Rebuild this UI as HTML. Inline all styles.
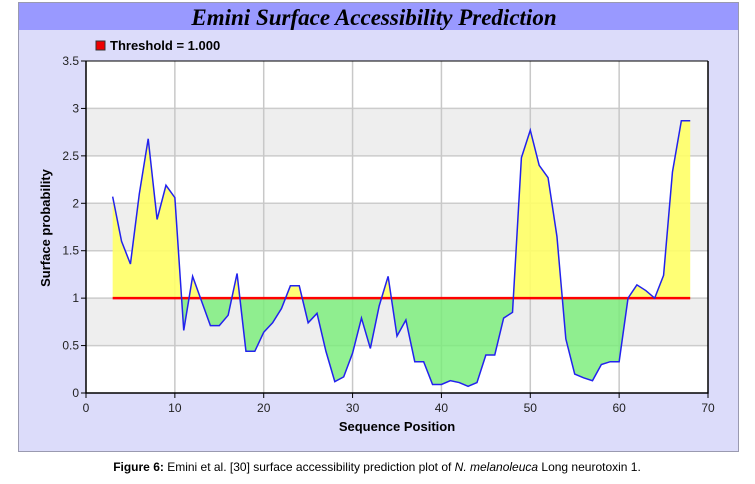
<!DOCTYPE html>
<html><head><meta charset="utf-8"><style>
body{margin:0;background:#fff;width:755px;height:479px;overflow:hidden;font-family:"Liberation Sans",Arial,sans-serif}
</style></head><body>
<svg width="755" height="479" xmlns="http://www.w3.org/2000/svg" id="svg">
<rect x="18.5" y="2.5" width="720" height="449" fill="#dcdcfa" stroke="#9a9ab0"/>
<rect x="19" y="3" width="719" height="27" fill="#9999ff"/>
<text x="374" y="25" text-anchor="middle" font-family="Liberation Serif,serif" font-style="italic" font-weight="bold" font-size="23">Emini Surface Accessibility Prediction</text>
<rect x="96" y="41" width="9" height="9" fill="#ee0000" stroke="#333"/>
<text x="110" y="50" font-weight="bold" font-size="13">Threshold = 1.000</text>
<g id="plot"></g>
<text x="397" y="431" text-anchor="middle" font-weight="bold" font-size="13">Sequence Position</text>
<text transform="translate(50,228) rotate(-90)" text-anchor="middle" font-weight="bold" font-size="13">Surface probability</text>
<text x="377" y="471" text-anchor="middle" font-size="12"><tspan font-weight="bold">Figure 6:</tspan> Emini et al. [30] surface accessibility prediction plot of <tspan font-style="italic">N. melanoleuca</tspan> Long neurotoxin 1.</text>
</svg>
<script>
const positions=[3,4,5,6,7,8,9,10,11,12,13,14,15,16,17,18,19,20,21,22,23,24,25,26,27,28,29,30,31,32,33,34,35,36,37,38,39,40,41,42,43,44,45,46,47,48,49,50,51,52,53,54,55,56,57,58,59,60,61,62,63,64,65,66,67,68];
const scores=[2.07,1.6,1.36,2.1,2.68,1.83,2.19,2.06,0.66,1.23,0.97,0.71,0.71,0.82,1.26,0.44,0.44,0.64,0.74,0.89,1.13,1.13,0.74,0.84,0.44,0.12,0.17,0.42,0.79,0.47,0.92,1.23,0.6,0.77,0.33,0.33,0.09,0.09,0.13,0.11,0.07,0.11,0.4,0.4,0.79,0.85,2.48,2.77,2.4,2.27,1.65,0.57,0.2,0.16,0.13,0.3,0.33,0.33,1.0,1.14,1.08,1.0,1.24,2.33,2.87,2.87];
const threshold=1.0;
const xTicks=[0,10,20,30,40,50,60,70];
const yTicks=[0,0.5,1,1.5,2,2.5,3,3.5];
const yTickLabels=["0","0.5","1","1.5","2","2.5","3","3.5"];
const X0=86,X1=708,Y0=393,Y1=61;
const sx=v=>X0+(v-0)/70*(X1-X0);
const sy=v=>Y0-(v/3.5)*(Y0-Y1);
const NS="http://www.w3.org/2000/svg";
const g=document.getElementById('plot');
function mk(t,a){const e=document.createElementNS(NS,t);for(const k in a)e.setAttribute(k,a[k]);g.appendChild(e);return e;}
let e=mk('rect',{x:X0,y:Y1,width:X1-X0,height:Y0-Y1,fill:'#fff'});


for(let i=0;i<yTicks.length-1;i++){if(i%2===1){e=mk('rect',{x:X0,y:sy(yTicks[i+1]),width:X1-X0,height:sy(yTicks[i])-sy(yTicks[i+1]),fill:'#eeeeee'});

}}
yTicks.forEach((v,i)=>{if(v>0&&v<3.5){e=mk('line',{x1:X0,x2:X1,y1:sy(v),y2:sy(v),stroke:'#cccccc','stroke-width':1.5});

}
e=mk('line',{x1:X0-5,x2:X0,y1:sy(v),y2:sy(v),stroke:'#000'});


e=mk('text',{x:X0-7,y:sy(v)+4,'text-anchor':'end','font-size':12,fill:'#222'});e.textContent=yTickLabels[i];

});
xTicks.forEach(v=>{if(v>0&&v<70){e=mk('line',{x1:sx(v),x2:sx(v),y1:Y1,y2:Y0,stroke:'#c8c8c8','stroke-width':1.5});

}
e=mk('line',{x1:sx(v),x2:sx(v),y1:Y0,y2:Y0+5,stroke:'#000'});


e=mk('text',{x:sx(v),y:Y0+19,'text-anchor':'middle','font-size':12,fill:'#222'});e.textContent=v;

});
const ty=sy(threshold);
let d='M'+sx(positions[0])+','+ty;
positions.forEach((p,i)=>{d+=' L'+sx(p)+','+sy(scores[i]);});
d+=' L'+sx(positions[positions.length-1])+','+ty+' Z';
g.insertAdjacentHTML('beforeend','<clipPath id="above"><rect x="0" y="0" width="755" height="'+ty+'"/></clipPath><clipPath id="below"><rect x="0" y="'+ty+'" width="755" height="'+(479-ty)+'"/></clipPath>');
e=mk('path',{d:d,fill:'#ffff66','fill-opacity':0.9,'clip-path':'url(#above)'});


e=mk('path',{d:d,fill:'#77ee77','fill-opacity':0.8,'clip-path':'url(#below)'});


e=mk('line',{x1:sx(positions[0]),x2:sx(positions[positions.length-1]),y1:ty,y2:ty,stroke:'#ff0000','stroke-width':2.5});


e=mk('polyline',{points:positions.map((p,i)=>sx(p)+','+sy(scores[i])).join(' '),fill:'none',stroke:'#2222ee','stroke-width':1.5});


e=mk('path',{d:'M'+X0+','+Y1+' V'+Y0+' H'+X1+' V'+Y1,fill:'none',stroke:'#000','stroke-width':1.5});


e=mk('line',{x1:X0,x2:X1,y1:Y1,y2:Y1,stroke:'#000','stroke-width':1});


</script>
</body></html>
